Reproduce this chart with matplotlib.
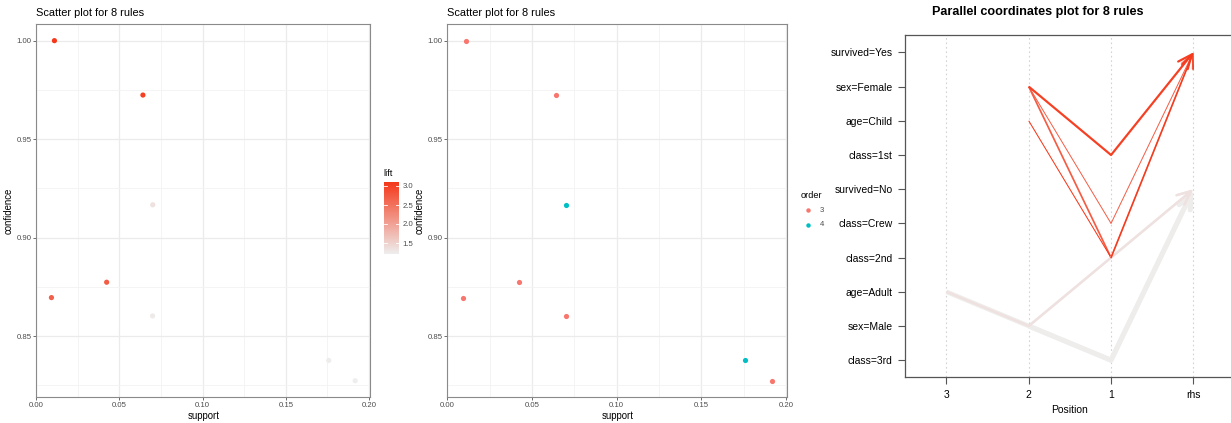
import numpy as np
import matplotlib.pyplot as plt
from matplotlib.colors import LinearSegmentedColormap, Normalize
from matplotlib.lines import Line2D

plt.rcParams['font.family'] = ['Liberation Sans', 'DejaVu Sans']

# -----------------------------
# Rule data (Titanic rules)
# -----------------------------
support = [0.0109, 0.0641, 0.0423, 0.0091, 0.0700, 0.0699, 0.1758, 0.1917]
confidence = [1.0000, 0.9724, 0.8774, 0.8696, 0.9167, 0.8603, 0.8377, 0.8274]
lift = [3.096, 3.010, 2.716, 2.692, 1.354, 1.271, 1.237, 1.222]
order = [3, 3, 3, 3, 4, 3, 4, 3]

rule_lhs = [["age=Child", "class=2nd"],
            ["sex=Female", "class=1st"],
            ["sex=Female", "class=2nd"],
            ["sex=Female", "class=Crew"],
            ["age=Adult", "sex=Male", "class=2nd"],
            ["sex=Male", "class=2nd"],
            ["age=Adult", "sex=Male", "class=3rd"],
            ["sex=Male", "class=3rd"]]
rule_rhs = ["survived=Yes"] * 4 + ["survived=No"] * 4

items = ["class=3rd", "sex=Male", "age=Adult", "class=2nd", "class=Crew",
         "survived=No", "class=1st", "age=Child", "sex=Female", "survived=Yes"]
pos_labels = ["3", "2", "1", "rhs"]

lift_ticks = [1.5, 2.0, 2.5, 3.0]
order_levels = [3, 4]
order_colors = {3: "#F8766D", 4: "#00BFC4"}

# -----------------------------
# Figure setup
# -----------------------------
W, H = 1231, 423
fig = plt.figure(figsize=(W / 100, H / 100), dpi=100)


def px_axes(x0, y0, x1, y1):
    return fig.add_axes([x0 / W, 1 - y1 / H, (x1 - x0) / W, (y1 - y0) / H])


def px_text(x, y, s, **kw):
    fig.text(x / W, 1 - y / H, s, **kw)


cmap = LinearSegmentedColormap.from_list("lift", ["#EEEEEE", "#F5381A"])
norm = Normalize(min(lift), max(lift))


def style_scatter(ax):
    ax.set_xlim(0, 0.2008)
    ax.set_ylim(0.819, 1.0083)
    ax.set_xticks([0, 0.05, 0.10, 0.15, 0.20])
    ax.set_xticklabels(["0.00", "0.05", "0.10", "0.15", "0.20"])
    ax.set_yticks([0.85, 0.90, 0.95, 1.00])
    ax.set_yticklabels(["0.85", "0.90", "0.95", "1.00"])
    ax.set_xticks([0.025, 0.075, 0.125, 0.175], minor=True)
    ax.set_yticks([0.825, 0.875, 0.925, 0.975], minor=True)
    ax.grid(which="major", color="#EBEBEB", lw=0.9)
    ax.grid(which="minor", color="#F3F3F3", lw=0.6)
    ax.set_axisbelow(True)
    ax.tick_params(which="major", labelsize=5.6, labelcolor="#4D4D4D",
                   length=2, width=0.5, color="#333333", pad=1.5)
    ax.tick_params(which="minor", length=0)
    for sp in ax.spines.values():
        sp.set_color("#8A8A8A")
        sp.set_linewidth(0.8)
    ax.set_xlabel("support", fontsize=6.9, labelpad=1)
    ax.set_ylabel("confidence", fontsize=6.9, labelpad=2)


# -----------------------------
# Panel 1: scatter coloured by lift
# -----------------------------
ax1 = px_axes(36.3, 24.3, 370.3, 397.3)
idx = np.argsort(lift)
ax1.scatter(np.array(support)[idx], np.array(confidence)[idx],
            c=np.array(lift)[idx], cmap=cmap, norm=norm, s=14, lw=0)
style_scatter(ax1)
px_text(36.3, 13.5, "Scatter plot for 8 rules", fontsize=7.9, va="center")

# lift colour bar
cb_top = 186 - (max(lift) - 3.0) * 38
cb_bot = 243 + (1.5 - min(lift)) * 38
cax = px_axes(384, cb_top, 399, cb_bot)
grad = np.linspace(min(lift), max(lift), 200).reshape(-1, 1)
cax.imshow(grad, cmap=cmap, norm=norm, aspect="auto", origin="lower",
           extent=[0, 1, min(lift), max(lift)])
cax.set_xlim(0, 1)
cax.set_ylim(min(lift), max(lift))
for t in lift_ticks:
    cax.plot([0, 0.2], [t, t], color="white", lw=0.6)
    cax.plot([0.8, 1], [t, t], color="white", lw=0.6)
cax.set_xticks([])
cax.set_yticks(lift_ticks)
cax.set_yticklabels(["%.1f" % t for t in lift_ticks])
cax.yaxis.tick_right()
cax.tick_params(axis="y", length=0, labelsize=5.6, labelcolor="#4D4D4D", pad=2.5)
for sp in cax.spines.values():
    sp.set_visible(False)
px_text(383, 173, "lift", fontsize=6.6, va="center")

# -----------------------------
# Panel 2: scatter coloured by order
# -----------------------------
ax2 = px_axes(447.3, 24.3, 787.3, 397.3)
for o in order_levels:
    xs = [s for s, k in zip(support, order) if k == o]
    ys = [c for c, k in zip(confidence, order) if k == o]
    ax2.scatter(xs, ys, color=order_colors[o], s=14, lw=0)
style_scatter(ax2)
px_text(447.3, 13.5, "Scatter plot for 8 rules", fontsize=7.9, va="center")

px_text(801, 195, "order", fontsize=6.6, va="center")
for i, o in enumerate(order_levels):
    yy = 210 + i * 14.5
    fig.add_artist(Line2D([808 / W], [1 - yy / H], transform=fig.transFigure,
                          marker="o", markersize=3.2, color=order_colors[o], lw=0,
                          markeredgewidth=0))
    px_text(820, yy, str(o), fontsize=5.6, color="#4D4D4D", va="center")

# -----------------------------
# Panel 3: parallel coordinates
# -----------------------------
ax3 = px_axes(905.3, 35.3, 905.3 + 4 * 82.3, 377.3)
ax3.set_xlim(0.5, 4.5)
ax3.set_ylim(0.5, len(items) + 0.5)
for xv in range(1, 5):
    ax3.axvline(xv, color="#D3D3D3", lw=0.8, ls=(0, (1.5, 2.5)), zorder=0)

ypos = {it: i + 1 for i, it in enumerate(items)}
smin, smax = min(support), max(support)
for r in np.argsort(lift):
    lhs = rule_lhs[r]
    k = len(lhs)
    xs = [4 - (k - j) for j in range(k)] + [4]
    ys = [ypos[it] for it in lhs] + [ypos[rule_rhs[r]]]
    lw_px = 1 + 4 * (support[r] - smin) / (smax - smin)
    col = cmap(norm(lift[r]))
    ax3.plot(xs[:-1], ys[:-1], color=col, lw=lw_px * 0.72,
             solid_capstyle="butt", solid_joinstyle="miter")
    ax3.annotate("", xy=(xs[-1], ys[-1]), xytext=(xs[-2], ys[-2]),
                 arrowprops=dict(arrowstyle="->,head_length=0.5,head_width=0.22",
                                 mutation_scale=20, color=col, lw=lw_px * 0.72,
                                 shrinkA=0, shrinkB=0))

ax3.set_yticks(range(1, len(items) + 1))
ax3.set_yticklabels(items)
ax3.set_xticks(range(1, 5))
ax3.set_xticklabels(pos_labels)
ax3.tick_params(labelsize=7.5, length=5, width=0.8, color="#555555", pad=4)
for sp in ax3.spines.values():
    sp.set_color("#555555")
    sp.set_linewidth(0.9)
ax3.set_xlabel("Position", fontsize=7.5, labelpad=4)
px_text(1037.7, 11.5, "Parallel coordinates plot for 8 rules",
        fontsize=9.1, fontweight="bold", ha="center", va="center")

fig.savefig("out.png", dpi=100)
